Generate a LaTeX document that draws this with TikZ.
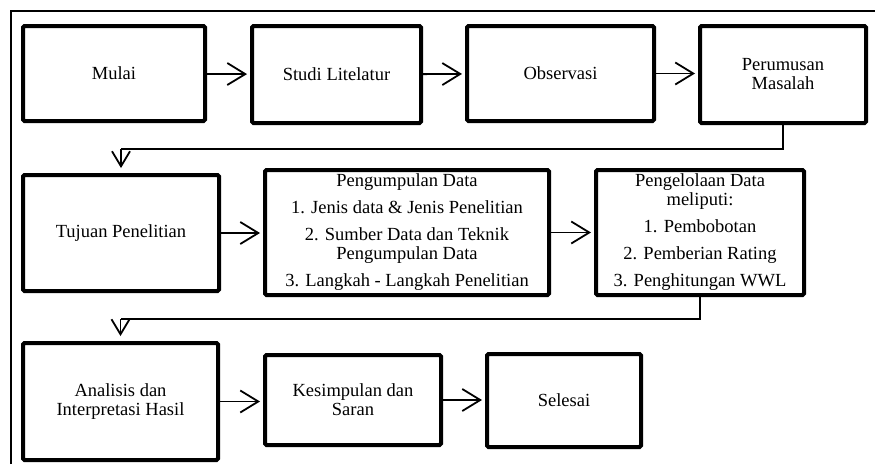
\documentclass[tikz,border=0pt]{standalone}
\usepackage{fontspec}
\setmainfont{Liberation Serif}
\usetikzlibrary{arrows.meta}
\begin{document}
\begin{tikzpicture}[x=1pt,y=-1pt,
  box/.style={draw,line width=4pt,rounded corners=1.5pt,fill=white,align=center,
    inner sep=0pt,outer sep=0pt,font=\fontsize{18.5}{19}\selectfont},
  arr/.style={line width=1.8pt,shorten >=5pt,
    -{Straight Barb[length=18pt,width=22pt,line width=1.8pt]}},
  darr/.style={line width=1.8pt,shorten >=7pt,
    -{Straight Barb[length=15pt,width=18pt,line width=1.8pt]}},
  conn/.style={line width=1.5pt}]
\useasboundingbox (0,0) rectangle (875,464);
\draw[line width=1.5pt] (11,464) -- (11,11) -- (875,11);

\node[box,minimum width=182pt,minimum height=95pt] (mulai) at (114,73.5) {Mulai};
\node[box,minimum width=169pt,minimum height=97pt] (studi) at (336.5,74.5) {Studi Litelatur};
\node[box,minimum width=187pt,minimum height=95pt] (obs) at (560.5,73.5) {Observasi};
\node[box,minimum width=166pt,minimum height=97pt] (rumus) at (783,74.5) {Perumusan\\Masalah};

\node[box,minimum width=196pt,minimum height=116pt] (tujuan) at (121,233) {Tujuan Penelitian};
\node[box,minimum width=284pt,minimum height=125pt] (kumpul) at (407,232.5)
  {Pengumpulan Data\\[8pt]1. Jenis data \& Jenis Penelitian\\[8pt]2. Sumber Data dan Teknik\\Pengumpulan Data\\[8pt]3. Langkah - Langkah Penelitian};
\node[box,minimum width=208pt,minimum height=125pt] (kelola) at (700,232.5)
  {Pengelolaan Data\\meliputi:\\[8pt]1. Pembobotan\\[8pt]2. Pemberian Rating\\[8pt]3. Penghitungan WWL};

\node[box,minimum width=195pt,minimum height=117pt] (analisis) at (120.5,401.5) {Analisis dan\\Interpretasi Hasil};
\node[box,minimum width=176pt,minimum height=90pt] (simpul) at (353,400) {Kesimpulan dan\\Saran};
\node[box,minimum width=154pt,minimum height=93pt] (selesai) at (564,400.5) {Selesai};

\draw[arr] (mulai) -- (studi);
\draw[arr] (studi) -- (obs);
\draw[arr] (obs.east) -- (rumus.west |- obs.east);
\draw[arr] (tujuan.east) -- (kumpul.west |- tujuan.east);
\draw[arr] (kumpul.east) -- (kelola.west |- kumpul.east);
\draw[arr] (analisis.east) -- (simpul.west |- analisis.east);
\draw[arr] (simpul.east) -- (selesai.west |- simpul.east);

\coordinate (t1) at (121,149);
\coordinate (t2) at (120.5,319);
\draw[conn] (rumus.south) |- (t1);
\draw[darr] (t1) -- (tujuan.north);
\draw[conn] (kelola.south) |- (t2);
\draw[darr] (t2) -- (analisis.north);
\end{tikzpicture}
\end{document}
